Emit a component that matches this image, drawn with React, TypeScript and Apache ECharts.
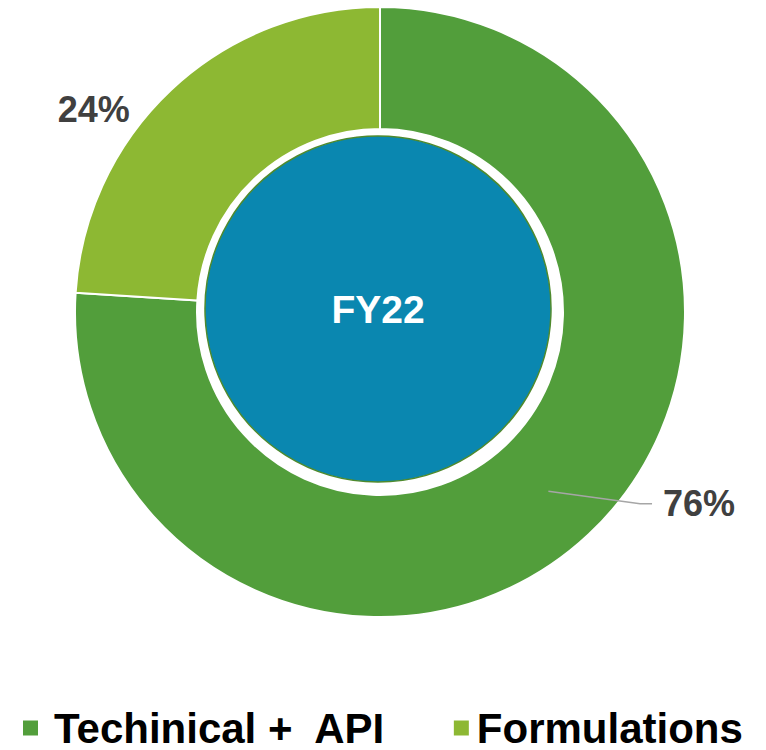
import React, { useEffect, useRef } from "react";
import * as echarts from "echarts";

const categories = ["Techinical +  API", "Formulations"];
const shares = [76, 24];
const colors = ["#529E3B", "#8DB833"];
const centerLabel = "FY22";

export default function App() {
  const ref = useRef<HTMLDivElement>(null);
  useEffect(() => {
    document.body.style.margin = "0";
    const chart = echarts.init(ref.current!, null, { renderer: "svg" });
    const data = categories.map((name, i) => ({
      name,
      value: shares[i],
      itemStyle: { color: colors[i] },
    }));
    const labelData = categories.map((name, i) => ({
      name,
      value: shares[i],
      labelLine:
        i === 0
          ? { show: true, length: 17, length2: 97 }
          : { show: false, length: 32, length2: 54 },
    }));
    const legendFont = {
      fontFamily: "Liberation Sans, Arial, sans-serif",
      fontWeight: "bold",
      fontSize: 42,
      lineHeight: 40,
      color: "#000000",
    };
    chart.setOption({
      animation: false,
      legend: {
        data: categories.map((name, i) => ({
          name,
          textStyle: { ...legendFont, padding: i === 0 ? [0, 0, 0, 10] : [0, 0, 0, 2] },
        })),
        left: 21,
        top: 707,
        padding: 0,
        icon: "rect",
        itemWidth: 17,
        itemHeight: 17,
        itemGap: 66,
        selectedMode: false,
        textStyle: legendFont,
      },
      series: [
        {
          type: "pie",
          center: [380, 312],
          radius: [183, 305],
          startAngle: 90,
          clockwise: true,
          silent: true,
          z: 1,
          label: { show: false },
          labelLine: { show: false },
          itemStyle: { borderColor: "#ffffff", borderWidth: 2 },
          data,
        },
        {
          type: "pie",
          center: [380, 312],
          radius: [0, 246],
          startAngle: 90,
          clockwise: true,
          silent: true,
          z: 5,
          legendHoverLink: false,
          itemStyle: { color: "rgba(0,0,0,0)" },
          label: {
            show: true,
            position: "outside",
            formatter: "{d}%",
            fontFamily: "Liberation Sans, Arial, sans-serif",
            fontWeight: "bold",
            fontSize: 36,
            color: "#404040",
            distanceToLabelLine: 6,
          },
          labelLine: {
            lineStyle: { color: "#A6A6A6", width: 1.5 },
          },
          labelLayout: (params: any) => {
            if (params.dataIndex === 0 && params.labelLinePoints) {
              const r = params.labelRect;
              const p0 = params.labelLinePoints[0];
              const yMid = r.y + r.height / 2;
              return {
                labelLinePoints: [p0, [r.x - 23, yMid], [r.x - 11, yMid]],
              };
            }
            return {};
          },
          data: labelData,
        },
        {
          type: "pie",
          center: [378, 309],
          radius: [0, 173],
          silent: true,
          z: 2,
          label: {
            show: true,
            position: "center",
            formatter: centerLabel,
            fontFamily: "Liberation Sans, Arial, sans-serif",
            fontWeight: "bold",
            fontSize: 39,
            color: "#ffffff",
          },
          labelLine: { show: false },
          itemStyle: { color: "#0A87B0", borderColor: "#4E8A2E", borderWidth: 1.5 },
          data: [{ name: centerLabel, value: 1 }],
        },
      ],
    });
    return () => chart.dispose();
  }, []);
  return <div ref={ref} style={{ width: 766, height: 750 }} />;
}
